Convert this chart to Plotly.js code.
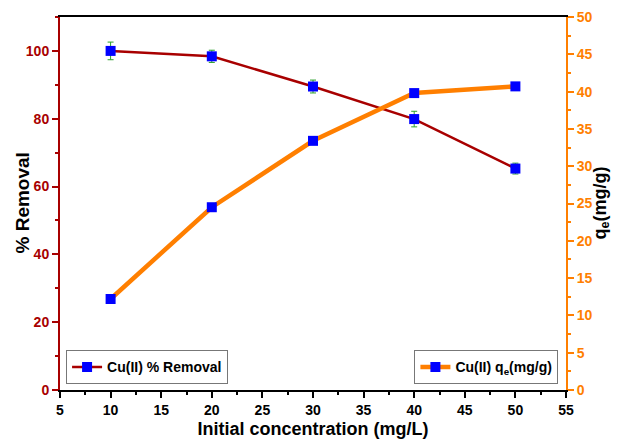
<!DOCTYPE html>
<html>
<head>
<meta charset="utf-8">
<script src="https://cdn.plot.ly/plotly-3.0.1.min.js"></script>
<style>html,body{margin:0;padding:0;background:#fff;}#chart{width:617px;height:439px;}</style>
</head>
<body>
<div id="chart"></div>
<script>
const concentration = [10, 20, 30, 40, 50];
const removalPct = [100, 98.4, 89.5, 79.9, 65.3];
const removalErr = [2.6, 1.8, 1.9, 2.3, 1.6];
const qeValues = [12.2, 24.5, 33.4, 39.8, 40.7];
const xTicks = [5, 10, 15, 20, 25, 30, 35, 40, 45, 50, 55];

const DARKRED = '#a80000';
const ORANGE = '#ff7f00';
const BLUE = '#0000ff';
const GREEN = '#2ca02c';
const FONT = 'Liberation Sans, Arial, sans-serif';

const traces = [
  {
    x: concentration, y: removalPct, type: 'scatter', mode: 'lines+markers',
    name: '<b>Cu(II) % Removal</b>',
    line: {color: DARKRED, width: 2.5},
    marker: {symbol: 'square', size: 10, color: BLUE},
    error_y: {type: 'data', array: removalErr, visible: true, color: GREEN, thickness: 1, width: 3},
    yaxis: 'y', legend: 'legend'
  },
  {
    x: concentration, y: qeValues, type: 'scatter', mode: 'lines+markers',
    name: '<b>Cu(II) q<sub>e</sub>(mg/g)</b>',
    line: {color: ORANGE, width: 4.5},
    marker: {symbol: 'square', size: 10, color: BLUE},
    yaxis: 'y2', legend: 'legend2'
  }
];

const plotW = 617 - 60 - 51;

const layout = {
  width: 617, height: 439,
  margin: {l: 60, r: 51, t: 17, b: 49},
  paper_bgcolor: '#fff', plot_bgcolor: '#fff',
  font: {family: FONT, color: '#000'},
  showlegend: true,
  xaxis: {
    range: [5, 55], tickvals: xTicks, ticktext: xTicks.map(String),
    showgrid: false, zeroline: false,
    showline: true, linecolor: '#000', linewidth: 2, mirror: true,
    ticks: 'outside', ticklen: 6, tickwidth: 2, tickcolor: '#000',
    minor: {dtick: 2.5, tick0: 5, ticks: 'outside', ticklen: 3, tickwidth: 2, tickcolor: '#000', showgrid: false},
    tickfont: {family: FONT, size: 14, color: '#000', weight: 'bold'},
    title: {text: '<b>Initial concentration (mg/L)</b>', font: {family: FONT, size: 18, color: '#000'}, standoff: 9}
  },
  yaxis: {
    range: [0, 110], dtick: 20, tick0: 0,
    showgrid: false, zeroline: false,
    showline: true, linecolor: DARKRED, linewidth: 2,
    ticks: 'outside', ticklen: 6, tickwidth: 2, tickcolor: DARKRED,
    minor: {dtick: 10, tick0: 0, ticks: 'outside', ticklen: 3, tickwidth: 2, tickcolor: DARKRED, showgrid: false},
    tickfont: {family: FONT, size: 14, color: DARKRED, weight: 'bold'}
  },
  yaxis2: {
    overlaying: 'y', side: 'right',
    range: [0, 50], dtick: 5, tick0: 0,
    showgrid: false, zeroline: false,
    showline: true, linecolor: ORANGE, linewidth: 2,
    ticks: 'outside', ticklen: 6, tickwidth: 2, tickcolor: ORANGE,
    minor: {dtick: 2.5, tick0: 0, ticks: 'outside', ticklen: 3, tickwidth: 2, tickcolor: ORANGE, showgrid: false},
    tickfont: {family: FONT, size: 14, color: ORANGE, weight: 'bold'}
  },
  annotations: [
    {
      text: '<b>% Removal</b>', textangle: -90, showarrow: false,
      xref: 'paper', yref: 'paper', x: (22 - 60) / plotW, y: 0.5,
      xanchor: 'center', yanchor: 'middle',
      font: {family: FONT, size: 19, color: '#000'}
    },
    {
      text: '<b>q<sub>e</sub>(mg/g)</b>', textangle: -90, showarrow: false,
      xref: 'paper', yref: 'paper', x: (601 - 60) / plotW, y: 0.5,
      xanchor: 'center', yanchor: 'middle',
      font: {family: FONT, size: 18, color: '#000'}
    }
  ],
  legend: {
    x: 0.012, y: 0.015, xanchor: 'left', yanchor: 'bottom',
    bgcolor: '#fff', bordercolor: '#777', borderwidth: 1,
    font: {family: FONT, size: 14, color: '#000'},
    itemwidth: 30, tracegroupgap: 0
  },
  legend2: {
    x: 0.985, y: 0.015, xanchor: 'right', yanchor: 'bottom',
    bgcolor: '#fff', bordercolor: '#777', borderwidth: 1,
    font: {family: FONT, size: 14, color: '#000'},
    itemwidth: 30, tracegroupgap: 0
  }
};

Plotly.newPlot('chart', traces, layout, {displayModeBar: false, staticPlot: true});
</script>
</body>
</html>
